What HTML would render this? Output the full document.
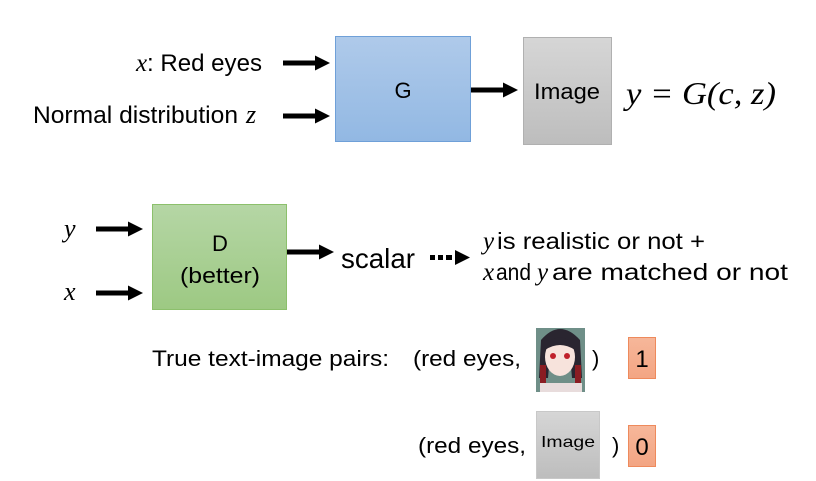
<!DOCTYPE html>
<html><head><meta charset="utf-8"><style>
html,body{margin:0;padding:0;background:#fff;}
svg{display:block;}
text{font-family:"Liberation Sans",sans-serif;fill:#000;}
.m{font-family:"Liberation Serif",serif;font-style:italic;}
</style></head><body>
<svg width="816" height="481" viewBox="0 0 816 481" xmlns="http://www.w3.org/2000/svg">
<defs>
<linearGradient id="gb" x1="0" y1="0" x2="0" y2="1"><stop offset="0" stop-color="#afcaea"/><stop offset="1" stop-color="#92b8e3"/></linearGradient>
<linearGradient id="gg" x1="0" y1="0" x2="0" y2="1"><stop offset="0" stop-color="#b5d6a5"/><stop offset="1" stop-color="#9dc983"/></linearGradient>
<linearGradient id="gy" x1="0" y1="0" x2="0" y2="1"><stop offset="0" stop-color="#d6d6d6"/><stop offset="1" stop-color="#bdbdbd"/></linearGradient>
<linearGradient id="go" x1="0" y1="0" x2="0" y2="1"><stop offset="0" stop-color="#f6b79a"/><stop offset="1" stop-color="#f3a583"/></linearGradient>
<g id="arr"><rect x="0" y="-2.5" width="34" height="5" fill="#000"/><polygon points="32,-7.5 47,0 32,7.5" fill="#000"/></g>
</defs>

<!-- Top row -->
<text x="136" y="71" font-size="25" class="m">x</text>
<text x="147" y="71" font-size="24" textLength="115" lengthAdjust="spacingAndGlyphs">: Red eyes</text>
<text x="33" y="123" font-size="24" textLength="205" lengthAdjust="spacingAndGlyphs">Normal distribution</text>
<text x="246" y="123" font-size="26" class="m">z</text>
<use href="#arr" x="283" y="63"/>
<use href="#arr" x="283" y="116"/>
<rect x="335.5" y="36.5" width="135" height="105" fill="url(#gb)" stroke="#6fa0d8" stroke-width="1"/>
<text x="403" y="98" font-size="22" text-anchor="middle">G</text>
<use href="#arr" x="471" y="90"/>
<rect x="523.5" y="37.5" width="88" height="107" fill="url(#gy)" stroke="#b0b0b0" stroke-width="1"/>
<text x="567" y="99" font-size="22" text-anchor="middle" textLength="66" lengthAdjust="spacingAndGlyphs">Image</text>
<text x="626" y="104" font-size="32" class="m" textLength="150" lengthAdjust="spacingAndGlyphs">y = G(c, z)</text>

<!-- Middle row -->
<text x="64" y="237" font-size="26" class="m">y</text>
<text x="64" y="300" font-size="26" class="m">x</text>
<use href="#arr" x="96" y="229"/>
<use href="#arr" x="96" y="293"/>
<rect x="152.5" y="204.5" width="134" height="105" fill="url(#gg)" stroke="#8cc06c" stroke-width="1"/>
<text x="220" y="251" font-size="22" text-anchor="middle">D</text>
<text x="220" y="283" font-size="22" text-anchor="middle" textLength="80" lengthAdjust="spacingAndGlyphs">(better)</text>
<use href="#arr" x="287" y="252"/>
<text x="341" y="268" font-size="28" textLength="74" lengthAdjust="spacingAndGlyphs">scalar</text>
<rect x="430" y="255" width="5" height="5" fill="#000"/>
<rect x="438" y="255" width="5" height="5" fill="#000"/>
<rect x="446" y="255" width="6" height="5" fill="#000"/>
<polygon points="455,250 470,257.5 455,265" fill="#000"/>
<text x="483" y="249" font-size="25" class="m">y</text>
<text x="497" y="249" font-size="23" textLength="208" lengthAdjust="spacingAndGlyphs">is realistic or not +</text>
<text x="483" y="280" font-size="25" class="m">x</text>
<text x="496" y="280" font-size="23" textLength="35" lengthAdjust="spacingAndGlyphs">and</text>
<text x="537" y="280" font-size="25" class="m">y</text>
<text x="552" y="280" font-size="23" textLength="236" lengthAdjust="spacingAndGlyphs">are matched or not</text>

<!-- Bottom -->
<text x="152" y="366" font-size="22" textLength="237" lengthAdjust="spacingAndGlyphs">True text-image pairs:</text>
<text x="413" y="366" font-size="22" textLength="108" lengthAdjust="spacingAndGlyphs">(red eyes,</text>
<g>
<rect x="536" y="328" width="49" height="64" fill="#6f8f88"/>
<path d="M541,340 Q560,318 580,340 L582,378 L572,378 L570,355 L550,355 L548,378 L539,378 Z" fill="#2a2530"/>
<ellipse cx="560" cy="357" rx="15" ry="19" fill="#f7e3dc"/>
<path d="M545,345 Q560,330 575,345 L575,350 Q560,340 545,350 Z" fill="#2a2530"/>
<ellipse cx="553" cy="356" rx="3" ry="3" fill="#c0202a"/>
<ellipse cx="567" cy="356" rx="3" ry="3" fill="#c0202a"/>
<rect x="540" y="365" width="6" height="20" fill="#8a1c22"/>
<rect x="575" y="365" width="6" height="20" fill="#8a1c22"/>
<rect x="540" y="383" width="42" height="9" fill="#e8dcdc"/>
</g>
<text x="592" y="366" font-size="22">)</text>
<rect x="628.5" y="337.5" width="27" height="41" fill="url(#go)" stroke="#ee8a5c" stroke-width="1"/>
<text x="642" y="367" font-size="24" text-anchor="middle">1</text>

<text x="418" y="453" font-size="22" textLength="108" lengthAdjust="spacingAndGlyphs">(red eyes,</text>
<rect x="536.5" y="411.5" width="63" height="67" fill="url(#gy)" stroke="#c8c8c8" stroke-width="1"/>
<text x="568" y="447" font-size="16" text-anchor="middle" textLength="54" lengthAdjust="spacingAndGlyphs">Image</text>
<text x="612" y="453" font-size="22">)</text>
<rect x="628.5" y="425.5" width="27" height="41" fill="url(#go)" stroke="#ee8a5c" stroke-width="1"/>
<text x="642" y="455" font-size="24" text-anchor="middle">0</text>
</svg>
</body></html>
